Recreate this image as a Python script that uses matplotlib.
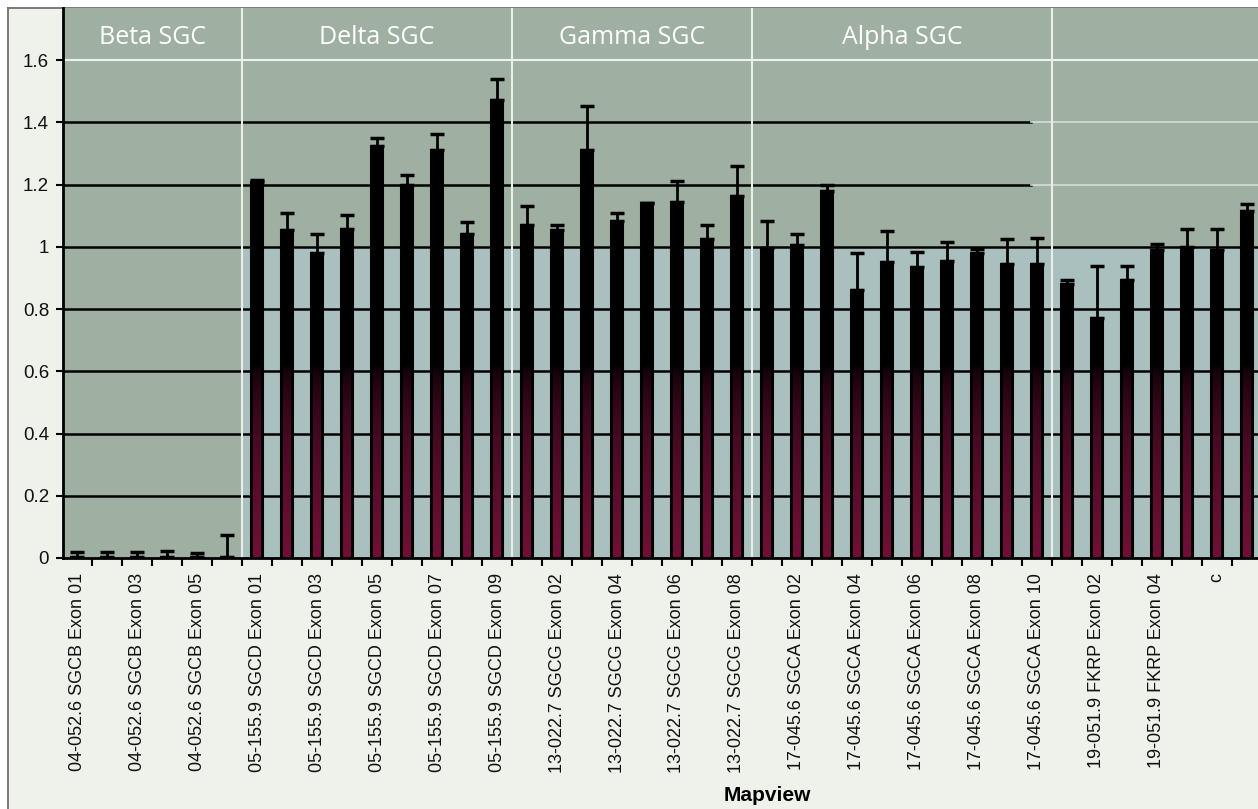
import numpy as np
import matplotlib.pyplot as plt
from matplotlib.patches import Rectangle

# ratios, one list per gene group
beta_vals = [0.004, 0.004, 0.004, 0.004, 0.003, 0.003]
beta_err = [0.015, 0.015, 0.015, 0.017, 0.012, 0.072]
delta_vals = [1.21, 1.054, 0.982, 1.059, 1.323, 1.20, 1.312, 1.041, 1.471]
delta_err = [0.005, 0.055, 0.058, 0.045, 0.027, 0.03, 0.05, 0.04, 0.068]
gamma_vals = [1.07, 1.054, 1.312, 1.084, 1.141, 1.143, 1.024, 1.165]
gamma_err = [0.06, 0.015, 0.14, 0.026, 0.0, 0.07, 0.047, 0.095]
alpha_vals = [0.998, 1.005, 1.179, 0.86, 0.95, 0.935, 0.955, 0.98, 0.945, 0.945]
alpha_err = [0.086, 0.038, 0.02, 0.12, 0.1, 0.05, 0.06, 0.012, 0.08, 0.085]
fkrp_vals = [0.882, 0.773, 0.894, 0.99, 1.0, 0.99, 1.115]
fkrp_err = [0.013, 0.165, 0.044, 0.02, 0.057, 0.066, 0.022]

group_names = ["Beta SGC", "Delta SGC", "Gamma SGC", "Alpha SGC", ""]

# only every other category carries a label on the x axis
tick_labels = [
    "04-052.6 SGCB Exon 01", "04-052.6 SGCB Exon 03", "04-052.6 SGCB Exon 05",
    "05-155.9 SGCD Exon 01", "05-155.9 SGCD Exon 03", "05-155.9 SGCD Exon 05",
    "05-155.9 SGCD Exon 07", "05-155.9 SGCD Exon 09",
    "13-022.7 SGCG Exon 02", "13-022.7 SGCG Exon 04", "13-022.7 SGCG Exon 06",
    "13-022.7 SGCG Exon 08",
    "17-045.6 SGCA Exon 02", "17-045.6 SGCA Exon 04", "17-045.6 SGCA Exon 06",
    "17-045.6 SGCA Exon 08", "17-045.6 SGCA Exon 10",
    "19-051.9 FKRP Exon 02", "19-051.9 FKRP Exon 04", "c",
]
y_ticks = [0, 0.2, 0.4, 0.6, 0.8, 1.0, 1.2, 1.4, 1.6]

all_vals = [beta_vals, delta_vals, gamma_vals, alpha_vals, fkrp_vals]
all_errs = [beta_err, delta_err, gamma_err, alpha_err, fkrp_err]
values = np.concatenate(all_vals)
errors = np.concatenate(all_errs)
sizes = [len(v) for v in all_vals]
x = np.arange(len(values))
bounds = np.cumsum(sizes)[:-1] - 0.5

W, H = 1258, 809
fig = plt.figure(figsize=(W / 100, H / 100), dpi=100, facecolor="white")

# paper / photo background
bg = fig.add_axes([0, 0, 1, 1], zorder=-5)
bg.set_xlim(0, W)
bg.set_ylim(H, 0)
bg.axis("off")
bg.add_patch(Rectangle((8, 8), W - 8, H - 8, color="#eef2ea"))
tan = np.linspace(0, 1, 100).reshape(-1, 1)
strip = np.ones((100, 1, 3))
strip[:, 0, :] = (1 - tan) * np.array([0.85, 0.82, 0.66]) + tan * np.array([0.93, 0.93, 0.86])
bg.imshow(strip, extent=[8, 63, 580, 8], aspect="auto")
bg.plot([8, 8], [8, H], color="#707070", lw=1.3)
bg.plot([8, W], [8, 8], color="#707070", lw=1.3)

ax = fig.add_axes([63 / W, 1 - 558 / H, 1 - 63 / W, 550 / H])
ax.set_facecolor("#9fb0a2")
ax.set_xlim(-0.47, len(values) - 1 + 0.37)
ax.set_ylim(0, 1.768)

# lighter panel behind the bars below 1.0
ax.add_patch(Rectangle((bounds[0], 0), ax.get_xlim()[1] - bounds[0], 1.0,
                       color="#aac0bf", zorder=0))

for yv in y_ticks[1:-1]:
    if yv >= 1.2:
        ax.axhline(yv, xmax=0.81, color="black", lw=1.8, zorder=1)
        ax.axhline(yv, xmin=0.81, color="#d6ddd4", lw=1.2, zorder=1)
    else:
        ax.axhline(yv, color="black", lw=1.8, zorder=1)
ax.axhline(y_ticks[-1], color="#eef2ee", lw=1.5, zorder=1)
for b in bounds:
    ax.axvline(b, color="#e8eee8", lw=1.5, zorder=1.5)

bars = ax.bar(x, values, width=0.4, color="black", edgecolor="black",
              lw=1.5, zorder=3)

# dark maroon showing through in the lower part of each bar
fade = np.linspace(0, 1, 200)
shade = np.zeros((200, 1, 4))
shade[:, 0, :3] = [0.45, 0.06, 0.22]
shade[:, 0, 3] = (1 - fade) ** 0.5
for bar in bars:
    x0, w, h = bar.get_x(), bar.get_width(), bar.get_height()
    if h < 0.05:
        continue
    im = ax.imshow(shade, extent=[x0, x0 + w, 0, 0.62], origin="lower",
                   aspect="auto", zorder=3.5)
    clip = Rectangle((x0 + w * 0.18, 0), w * 0.64, h, transform=ax.transData)
    im.set_clip_path(clip)
ax.set_xlim(-0.47, len(values) - 1 + 0.37)
ax.set_ylim(0, 1.768)

ax.errorbar(x, values, yerr=[np.zeros_like(errors), errors], fmt="none",
            ecolor="black", elinewidth=2, capsize=5, capthick=2.5, zorder=4)

edges = np.concatenate([[ax.get_xlim()[0]], bounds, [bounds[-1] + sizes[-1]]])
for name, lo, hi in zip(group_names, edges[:-1], edges[1:]):
    if name:
        ax.text((lo + hi) / 2, 1.672, name, color="white", fontsize=18,
                family="Open Sans", ha="center", va="center", zorder=5)

for side in ["top", "right"]:
    ax.spines[side].set_visible(False)
for side in ["left", "bottom"]:
    ax.spines[side].set_linewidth(2)
    ax.spines[side].set_color("black")
    ax.spines[side].set_zorder(6)

ax.set_yticks(y_ticks)
ax.set_yticklabels([f"{t:g}" for t in y_ticks], family="Liberation Sans",
                   fontsize=13.5, color="#111111")
ax.tick_params(axis="y", direction="out", length=5, width=1.5, pad=5)

ax.set_xticks(x[::2])
ax.set_xticklabels(tick_labels, rotation=90, family="Liberation Sans",
                   fontsize=13, color="#111111")
ax.set_xticks(x[:-1] + 0.5, minor=True)
ax.tick_params(axis="x", which="major", length=0, pad=11)
ax.tick_params(axis="x", which="minor", direction="out", length=6, width=1.5)

ax.set_xlabel("Mapview", family="Liberation Sans", fontweight="bold", fontsize=15)
ax.xaxis.set_label_coords(0.589, -0.415)

fig.savefig("out.png", dpi=100, facecolor=fig.get_facecolor())
